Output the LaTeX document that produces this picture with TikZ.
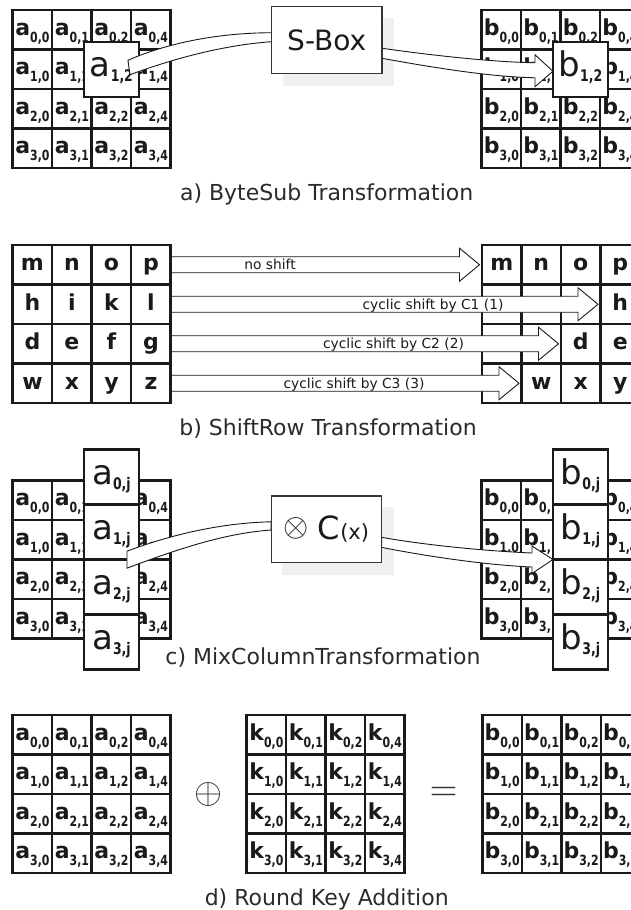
\documentclass[tikz,border=0pt]{standalone}
\usepackage{fontspec}
\usepackage{graphicx}
\setmainfont{DejaVu Sans}
\newfontfamily\subf[FakeStretch=0.78]{DejaVu Sans Bold}
\usetikzlibrary{calc}
\pgfdeclarelayer{bg}
\pgfdeclarelayer{front}
\pgfsetlayers{bg,main,front}
\definecolor{ink}{HTML}{1A1A1A}
\definecolor{boxline}{HTML}{353535}
\definecolor{shadowc}{HTML}{EFF0F2}
\definecolor{captc}{HTML}{2B2B2B}

\newcommand\smlab[3]{{\fontsize{22}{22}\selectfont\bfseries #1}\raisebox{-7pt}{\fontsize{14}{14}\subf #2,#3}}
\newcommand\bglab[3]{{\fontsize{34}{34}\selectfont #1}\raisebox{-5pt}{\fontsize{16}{16}\subf #2,#3}}
\newcommand\lefttxt[2]{\ifcase#1 \ifcase#2 m\or n\or o\or p\fi\or \ifcase#2 h\or i\or k\or l\fi\or \ifcase#2 d\or e\or f\or g\fi\or \ifcase#2 w\or x\or y\or z\fi\fi}
\newcommand\righttxt[2]{\ifcase#1 \ifcase#2 m\or n\or o\or p\fi\or \ifcase#2 \or\or\or h\fi\or \ifcase#2 \or\or d\or e\fi\or \ifcase#2 \or w\or x\or y\fi\fi}

\tikzset{
  cellbox/.style={draw=ink, line width=2.5pt, minimum size=39.5pt, inner sep=0pt, outer sep=0pt,
    text=ink, text height=16pt, text depth=5.4pt},
  letbox/.style={draw=ink, line width=2.5pt, minimum size=39.5pt, inner sep=0pt, outer sep=0pt,
    text=ink, text height=18pt, text depth=6pt, font=\fontsize{22}{22}\selectfont\bfseries},
  bigbox/.style={draw=ink, fill=white, line width=2.5pt, minimum size=55pt, inner sep=0pt, outer sep=0pt,
    text=ink, text height=20pt, text depth=6pt},
  opbox/.style={draw=boxline, line width=1.2pt, fill=white, minimum width=110.5pt, minimum height=66.7pt,
    inner sep=0pt, outer sep=0pt, text=ink},
  shadowbox/.style={fill=shadowc, draw=none, minimum width=111.6pt, minimum height=68pt, inner sep=0pt},
  blockarrow/.style={draw=ink, line width=0.9pt, fill=white, line join=miter},
  caption/.style={font=\fontsize{22}{22}\selectfont, text=captc, anchor=base},
  shiftlab/.style={font=\fontsize{13.8}{13.8}\selectfont, text=ink, anchor=base},
}

\newcommand\labgrid[4]{%
  \foreach \rr in {0,...,3}{%
    \foreach \cc/\ci in {0/0,1/1,2/2,3/4}{%
      \node[cellbox] (#4-\rr-\cc) at ({#1+(\cc+0.5)*39.5},{#2+(\rr+0.5)*39.5}) {\smlab{#3}{\rr}{\ci}};
    }}}

\begin{document}
\begin{tikzpicture}[x=1pt,y=-1pt]
\useasboundingbox (0,0) rectangle (631,910);
\begin{pgfonlayer}{bg}
  \fill[white] (0,0) rectangle (631,910);
\end{pgfonlayer}
\clip (0,0) rectangle (631,910);

% ---------------- a) ByteSub ----------------
\begin{pgfonlayer}{front}
  \node[opbox, font=\fontsize{28}{28}\selectfont] (sbox) at (326.7,40) {S-Box};
\end{pgfonlayer}
\begin{pgfonlayer}{bg}
  \node[shadowbox] (sboxsh) at ($(sbox.center)+(11.8,12)$) {};
\end{pgfonlayer}

\labgrid{12.7}{10}{a}{aL}
\node[bigbox] (aBig) at (aL-1-2) {\bglab{a}{1}{2}};
\filldraw[blockarrow] ($(aBig.center)+(16.5,-9)$) .. controls (170,42) and (220,33) .. ($(sbox.west)+(0,-7.3)$)
  -- ($(sbox.west)+(0,1.7)$) .. controls (225,45) and (175,58) .. ($(aBig.center)+(18.5,5.5)$) -- cycle;

\labgrid{481.7}{10}{b}{aR}
\node[bigbox] (bBig) at (aR-1-2) {\bglab{b}{1}{2}};
\coordinate (bTip) at ($(bBig.west)+(0,2)$);
\filldraw[blockarrow] ($(sbox.east)+(0,8.3)$) .. controls (430,55) and (490,62) .. ($(bTip)+(-18,-8.5)$)
  -- ($(bTip)+(-18,-16.5)$) -- (bTip) -- ($(bTip)+(-18,15.5)$) -- ($(bTip)+(-18,6.5)$)
  .. controls (490,77) and (430,67) .. ($(sbox.east)+(0,18.3)$) -- cycle;

\node[caption] (capA) at (326.7,200) {a) ByteSub Transformation};

% ---------------- b) ShiftRow ----------------
\foreach \rr in {0,...,3}{%
  \foreach \cc in {0,...,3}{%
    \node[letbox] (bL-\rr-\cc) at ({12.7+(\cc+0.5)*39.5},{245+(\rr+0.5)*39.5}) {\lefttxt{\rr}{\cc}};
    \node[letbox] (bR-\rr-\cc) at ({482+(\cc+0.5)*39.5},{245+(\rr+0.5)*39.5}) {\righttxt{\rr}{\cc}};
  }}
\foreach \rr/\kk in {0/0,1/3,2/2,3/1}{%
  \coordinate (tip\rr) at ($(bR-\rr-\kk.west)+(-2.5,0)$);
  \filldraw[blockarrow] ($(bL-\rr-3.east)+(1.3,-8)$) -- ($(tip\rr)+(-20,-8)$) -- ($(tip\rr)+(-20,-16.5)$)
    -- (tip\rr) -- ($(tip\rr)+(-20,16.5)$) -- ($(tip\rr)+(-20,8)$) -- ($(bL-\rr-3.east)+(1.3,8)$);
}
\node[shiftlab] (lab0) at ($(tip0)+(-209.5,4.8)$) {no shift};
\node[shiftlab] (lab1) at ($(tip1)+(-165,4.8)$) {cyclic shift by C1 (1)};
\node[shiftlab] (lab2) at ($(tip2)+(-165,4.8)$) {cyclic shift by C2 (2)};
\node[shiftlab] (lab3) at ($(tip3)+(-165,4.8)$) {cyclic shift by C3 (3)};

\node[caption] (capB) at (328,435) {b) ShiftRow Transformation};

% ---------------- c) MixColumn ----------------
\begin{pgfonlayer}{front}
  \node[opbox] (cbox) at (326.4,529.4)
    {\raisebox{3.6pt}{\scalebox{3.24}{$\otimes$}}\hspace{9pt}{\fontsize{32}{32}\selectfont C}{\fontsize{21}{21}\selectfont(x)}};
\end{pgfonlayer}
\begin{pgfonlayer}{bg}
  \node[shadowbox] (cboxsh) at ($(cbox.center)+(11.8,12)$) {};
\end{pgfonlayer}

\labgrid{12.7}{480.5}{a}{cL}
\foreach \rr in {0,...,3}{%
  \node[bigbox] (cA-\rr) at ($(cL-1-2.south)+(0,{-82.5+55*\rr})$) {\bglab{a}{\rr}{j}};
}
\filldraw[blockarrow] ($(cA-1.south)+(15.5,-8.3)$) .. controls (170,535) and (220,523) .. ($(cbox.west)+(0,-7.65)$)
  -- ($(cbox.west)+(0,0.65)$) .. controls (225,533) and (175,550) .. ($(cA-1.south)+(15.5,8.7)$) -- cycle;

\labgrid{481.7}{480.5}{b}{cR}
\foreach \rr in {0,...,3}{%
  \node[bigbox] (cB-\rr) at ($(cR-1-2.south)+(0,{-82.5+55*\rr})$) {\bglab{b}{\rr}{j}};
}
\coordinate (cTip) at ($(cB-1.south west)+(0,0)$);
\filldraw[blockarrow] ($(cbox.east)+(0,7.95)$) .. controls (425,545) and (485,551) .. ($(cTip)+(-21,-6.5)$)
  -- ($(cTip)+(-21,-13.5)$) -- (cTip) -- ($(cTip)+(-21,14)$) -- ($(cTip)+(-21,7.5)$)
  .. controls (485,565) and (425,556) .. ($(cbox.east)+(0,17.95)$) -- cycle;

\node[caption] (capC) at (323,664) {c) MixColumnTransformation};

% ---------------- d) Round Key Addition ----------------
\labgrid{12.7}{715}{a}{dA}
\labgrid{246.7}{715}{k}{dK}
\labgrid{482.3}{715}{b}{dB}
\node[text=boxline, inner sep=0pt] (oplus) at ($(dA-1-3.south east)!0.5!(dK-2-0.north west)$) {\scalebox{3.6}{$\oplus$}};
\node[text=boxline, inner sep=0pt] (eqs) at ($(dK-1-3.south east)!0.5!(dB-2-0.north west)$) {\scalebox{3.6}{$=$}};

\node[caption] (capD) at (326.7,905) {d) Round Key Addition};
\end{tikzpicture}
\end{document}
